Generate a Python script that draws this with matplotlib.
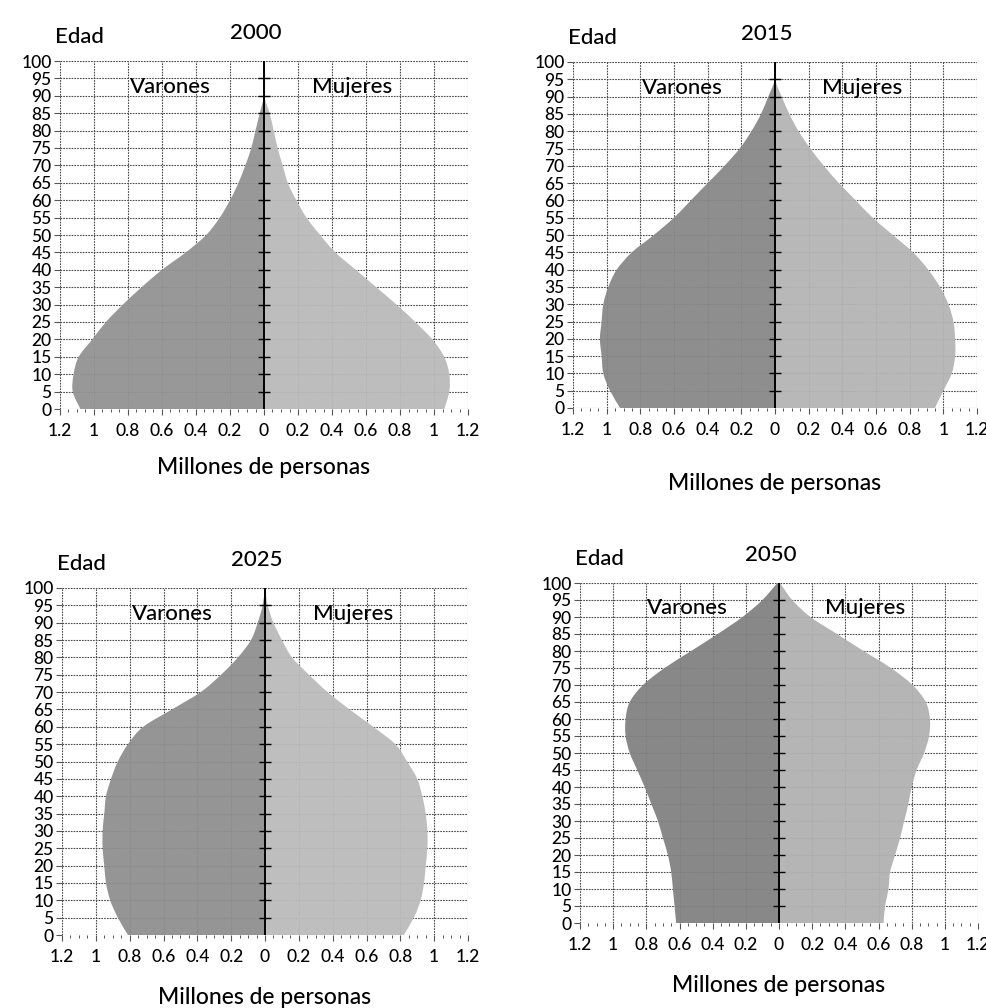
import numpy as np
import matplotlib
matplotlib.use("Agg")
import matplotlib.pyplot as plt
from matplotlib.path import Path
from matplotlib.patches import PathPatch
from matplotlib.ticker import MultipleLocator

plt.rcParams['font.family'] = ['Lato', 'DejaVu Sans']

# edades (cada 5 años) y millones de personas por sexo
ages = [0, 5, 10, 15, 20, 25, 30, 35, 40, 45, 50, 55, 60, 65, 70, 75, 80, 85, 90, 95, 100]

years = ['2000', '2015', '2025', '2050']

men_2000 = [1.08, 1.125, 1.12, 1.09, 1.01, 0.93, 0.83, 0.72, 0.60, 0.46, 0.34,
            0.26, 0.20, 0.15, 0.11, 0.075, 0.05, 0.025, 0.0, 0.0, 0.0]
women_2000 = [1.06, 1.09, 1.09, 1.06, 0.99, 0.89, 0.78, 0.66, 0.54, 0.42, 0.33,
              0.25, 0.19, 0.14, 0.11, 0.08, 0.057, 0.033, 0.0, 0.0, 0.0]

men_2015 = [0.92, 0.98, 1.02, 1.03, 1.04, 1.03, 1.02, 0.99, 0.94, 0.85, 0.72,
            0.60, 0.50, 0.40, 0.30, 0.21, 0.14, 0.083, 0.04, 0.0, 0.0]
women_2015 = [0.95, 1.0, 1.05, 1.07, 1.07, 1.06, 1.03, 0.98, 0.91, 0.82, 0.70,
              0.58, 0.48, 0.38, 0.29, 0.21, 0.14, 0.085, 0.04, 0.0, 0.0]

men_2025 = [0.81, 0.87, 0.915, 0.94, 0.95, 0.96, 0.96, 0.95, 0.94, 0.91, 0.87,
            0.81, 0.72, 0.55, 0.38, 0.26, 0.16, 0.083, 0.043, 0.014, 0.0]
women_2025 = [0.82, 0.88, 0.92, 0.94, 0.95, 0.96, 0.96, 0.95, 0.93, 0.90, 0.84,
              0.77, 0.64, 0.50, 0.37, 0.26, 0.16, 0.10, 0.05, 0.016, 0.0]

men_2050 = [0.62, 0.63, 0.64, 0.65, 0.67, 0.70, 0.73, 0.77, 0.81, 0.855, 0.90,
            0.925, 0.925, 0.90, 0.82, 0.69, 0.53, 0.37, 0.22, 0.10, 0.01]
women_2050 = [0.63, 0.64, 0.66, 0.67, 0.70, 0.73, 0.755, 0.78, 0.80, 0.83, 0.875,
              0.905, 0.91, 0.885, 0.805, 0.675, 0.51, 0.35, 0.19, 0.08, 0.006]

men = [men_2000, men_2015, men_2025, men_2050]
women = [women_2000, women_2015, women_2025, women_2050]

xticks = [-1.2, -1.0, -0.8, -0.6, -0.4, -0.2, 0.0, 0.2, 0.4, 0.6, 0.8, 1.0, 1.2]
xlabels = ['1.2', '1', '0.8', '0.6', '0.4', '0.2', '0', '0.2', '0.4', '0.6', '0.8', '1', '1.2']

# posiciones de los paneles en pixeles: izquierda, arriba, derecha, abajo
W, H = 986, 1008
boxes = [(60, 61, 468, 409), (573, 62, 977, 408), (62, 588, 468, 935), (580, 583, 978, 923)]
label_drop = [58, 75, 63, 62]
male_col = ['#939393', '#888888', '#8f8f8f', '#828282']
female_col = ['#bababa', '#b4b4b4', '#bbbbbb', '#b1b1b1']

px = 0.72  # puntos por pixel


def half_patch(x, y, color):
    # contorno suave (Catmull-Rom) que pasa por los puntos leidos, cerrado en x=0
    p = np.column_stack([x, y])
    n = len(p)
    verts = [(0.0, y[0]), tuple(p[0])]
    codes = [Path.MOVETO, Path.LINETO]
    for k in range(n - 1):
        p0 = p[max(k - 1, 0)]
        p1 = p[k]
        p2 = p[k + 1]
        p3 = p[min(k + 2, n - 1)]
        c1 = p1 + (p2 - p0) / 6.0
        c2 = p2 - (p3 - p1) / 6.0
        verts += [tuple(c1), tuple(c2), tuple(p2)]
        codes += [Path.CURVE4] * 3
    verts += [(0.0, y[-1]), (0.0, y[0])]
    codes += [Path.LINETO, Path.CLOSEPOLY]
    return PathPatch(Path(verts, codes), facecolor=color, edgecolor='none', zorder=2, alpha=0.95)


fig = plt.figure(figsize=(W / 100, H / 100), dpi=100)

for i in range(4):
    l, t, r, b = boxes[i]
    ax = fig.add_axes([l / W, 1 - b / H, (r - l) / W, (b - t) / H])
    ax.set_xlim(-1.2, 1.2)
    ax.set_ylim(0, 100)

    ax.add_patch(half_patch(-np.array(men[i]), np.array(ages, float), male_col[i]))
    ax.add_patch(half_patch(np.array(women[i]), np.array(ages, float), female_col[i]))

    ax.set_xticks(xticks)
    ax.set_xticklabels(xlabels)
    ax.xaxis.set_minor_locator(MultipleLocator(0.05))
    ax.set_yticks(ages)
    ax.set_yticklabels([str(a) for a in ages])
    ax.tick_params(axis='x', which='major', length=4, width=0.8, color='#555555',
                   pad=6, labelsize=12.5)
    ax.tick_params(axis='x', which='minor', length=2.5, width=0.7, color='#555555')
    ax.tick_params(axis='y', length=4, width=0.8, color='#555555', pad=2, labelsize=12.5)
    for lab in ax.get_xticklabels() + ax.get_yticklabels():
        lab.set_fontweight('medium')
    for s in ax.spines.values():
        s.set_visible(False)
    ax.grid(True, which='major', color='#4a4a4a', lw=0.8, ls=(0, (1.5, 1)), zorder=1)

    # eje central con marcas cada 5 años
    ax.axvline(0, color='black', lw=1.4, zorder=4)
    ax.hlines(ages[1:-1], -0.035, 0.035, color='black', lw=1.0, zorder=4)

    ax.text(-0.55, 92.5, 'Varones', ha='center', va='center', fontsize=16,
            fontweight='medium', zorder=5)
    ax.text(0.52, 92.5, 'Mujeres', ha='center', va='center', fontsize=16,
            fontweight='medium', zorder=5)

    ax.annotate('Edad', xy=(0, 1), xycoords='axes fraction',
                xytext=(-5 * px, 24 * px), textcoords='offset points',
                ha='left', va='center', fontsize=16, fontweight='medium')
    ax.annotate(years[i], xy=(0, 100), xycoords='data', annotation_clip=False,
                xytext=(-8 * px, 28 * px), textcoords='offset points',
                ha='center', va='center', fontsize=16, fontweight='medium')
    ax.annotate('Millones de personas', xy=(0, 0), xycoords='data', annotation_clip=False,
                xytext=(0, -label_drop[i] * px), textcoords='offset points',
                ha='center', va='center', fontsize=16.5, fontweight='medium')

fig.savefig('out.png', dpi=100)
